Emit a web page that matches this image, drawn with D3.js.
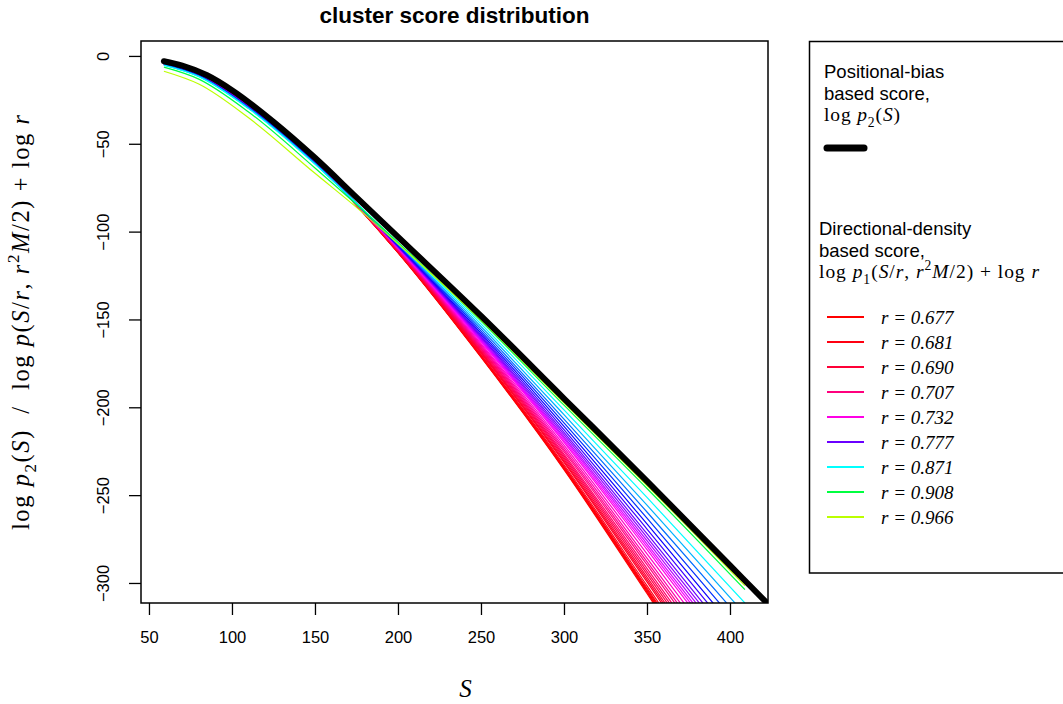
<!DOCTYPE html>
<html>
<head>
<meta charset="utf-8">
<script src="https://cdn.jsdelivr.net/npm/d3@7"></script>
<style>
  body { margin: 0; background: #fff; }
  svg { display: block; }
  text { white-space: pre; }
</style>
</head>
<body>
<svg id="chart" width="1063" height="704"></svg>
<script>
var scoreS = [59, 80, 110, 150, 175, 200, 250, 300, 350, 409];

// r of every coloured curve (low r = red, high r = yellow-green)
var rValues = [0.677, 0.678, 0.679, 0.680, 0.681, 0.683, 0.686, 0.688, 0.690, 0.694,
  0.698, 0.702, 0.707, 0.712, 0.718, 0.725, 0.732, 0.740, 0.748, 0.757,
  0.767, 0.777, 0.789, 0.802, 0.817, 0.833, 0.851, 0.871, 0.908, 0.966];

// log p1(S/r, r^2 M/2) + log r, one row per r, at scoreS
var p1Curves = [
  [-3.9, -10.1, -27.9, -59.8, -85.0, -112.0, -171.5, -235.5, -306.0, -390.0],
  [-3.9, -10.1, -27.9, -59.8, -85.0, -111.9, -171.2, -235.0, -305.2, -388.9],
  [-3.9, -10.1, -27.9, -59.8, -84.9, -111.8, -171.0, -234.5, -304.5, -387.8],
  [-3.9, -10.1, -27.9, -59.8, -84.9, -111.7, -170.7, -234.1, -303.7, -386.7],
  [-3.9, -10.1, -27.9, -59.8, -84.9, -111.7, -170.4, -233.6, -302.9, -385.6],
  [-3.9, -10.2, -28.0, -59.9, -84.9, -111.5, -170.0, -232.7, -301.5, -383.6],
  [-4.0, -10.2, -28.0, -59.9, -84.8, -111.3, -169.2, -231.4, -299.4, -380.6],
  [-4.0, -10.2, -28.0, -59.9, -84.7, -111.1, -168.8, -230.6, -298.1, -378.6],
  [-4.0, -10.2, -28.0, -59.9, -84.7, -111.0, -168.3, -229.7, -296.7, -376.7],
  [-4.0, -10.3, -28.1, -60.0, -84.7, -110.8, -167.7, -228.7, -295.0, -374.3],
  [-4.1, -10.3, -28.1, -60.0, -84.6, -110.6, -167.1, -227.7, -293.4, -371.8],
  [-4.1, -10.3, -28.2, -60.0, -84.6, -110.4, -166.5, -226.6, -291.7, -369.4],
  [-4.1, -10.4, -28.2, -60.1, -84.5, -110.2, -165.8, -225.3, -289.6, -366.4],
  [-4.2, -10.4, -28.3, -60.1, -84.5, -110.0, -165.2, -224.2, -287.8, -363.9],
  [-4.2, -10.5, -28.3, -60.2, -84.4, -109.8, -164.5, -223.0, -285.8, -361.0],
  [-4.3, -10.5, -28.4, -60.2, -84.3, -109.6, -163.7, -221.5, -283.4, -357.5],
  [-4.3, -10.6, -28.5, -60.3, -84.3, -109.3, -162.8, -220.0, -281.0, -354.0],
  [-4.4, -10.7, -28.6, -60.4, -84.3, -109.2, -162.3, -219.0, -279.3, -351.7],
  [-4.4, -10.7, -28.7, -60.5, -84.2, -109.0, -161.7, -217.9, -277.7, -349.4],
  [-4.5, -10.8, -28.8, -60.5, -84.2, -108.8, -161.1, -216.8, -275.9, -346.8],
  [-4.6, -10.9, -28.9, -60.6, -84.2, -108.6, -160.4, -215.6, -274.0, -344.0],
  [-4.6, -11.0, -29.0, -60.7, -84.2, -108.4, -159.7, -214.3, -271.9, -341.1],
  [-4.7, -11.1, -29.1, -60.8, -84.1, -108.2, -158.8, -212.7, -269.3, -337.3],
  [-4.8, -11.2, -29.3, -61.0, -84.0, -107.9, -157.8, -210.9, -266.4, -333.1],
  [-4.9, -11.3, -29.4, -61.1, -84.0, -107.5, -156.6, -208.9, -263.1, -328.4],
  [-5.0, -11.5, -29.6, -61.3, -83.9, -107.2, -155.4, -206.7, -259.6, -323.3],
  [-5.2, -11.6, -29.8, -61.4, -83.9, -106.8, -154.0, -204.2, -255.7, -317.7],
  [-5.3, -11.8, -30.0, -61.6, -83.8, -106.3, -152.5, -201.5, -251.3, -311.4],
  [-6.4, -13.2, -31.9, -63.8, -84.6, -106.1, -150.9, -198.8, -246.2, -303.8],
  [-8.7, -16.0, -35.2, -66.8, -86.2, -107.0, -150.2, -197.5, -244.5, -301.5]
];

// positional-bias score log p2(S) (thick black curve)
var p2S = [59, 70, 85, 100, 125, 150, 175, 200, 250, 300, 350, 400, 425];
var p2Values = [-3, -5.5, -11, -19.5, -37.5, -58, -80.5, -103, -148, -195, -242, -290, -314];

// r values shown in the legend
var legendR = [0.677, 0.681, 0.690, 0.707, 0.732, 0.777, 0.871, 0.908, 0.966];

var xTicks = [50, 100, 150, 200, 250, 300, 350, 400];
var yTicks = [0, -50, -100, -150, -200, -250, -300];

var sans = "'Liberation Sans', Arial, Helvetica, sans-serif",
  serif = "'Liberation Serif', 'Times New Roman', serif";

var svg = d3.select('#chart');

var plotL = 141, plotR = 768, plotT = 41, plotB = 603;

var x = d3.scaleLinear().domain([45.2, 422.9]).range([plotL, plotR]);
var y = d3.scaleLinear().domain([-311.4, 8.5]).range([plotB, plotT]);

// rainbow running backwards from red to yellow-green as r grows
var hue = d3.scaleLinear()
  .domain([0.677, 0.732, 0.777, 0.871, 0.908, 0.966])
  .range([360, 306, 265, 180, 135, 76]);
function colorOf(r) { return d3.hsl(hue(r), 1, 0.5).formatHex(); }

svg.append('defs').append('clipPath').attr('id', 'plotclip')
  .append('rect')
  .attr('x', plotL).attr('y', plotT)
  .attr('width', plotR - plotL).attr('height', plotB - plotT);

var line = d3.line()
  .x(function(d) { return x(d[0]); })
  .y(function(d) { return y(d[1]); })
  .curve(d3.curveMonotoneX);

var curves = svg.append('g').attr('clip-path', 'url(#plotclip)');

p1Curves.forEach(function(vals, i) {
  curves.append('path')
    .datum(scoreS.map(function(s, j) { return [s, vals[j]]; }))
    .attr('d', line)
    .attr('fill', 'none')
    .attr('stroke', colorOf(rValues[i]))
    .attr('stroke-width', 1.2);
});

curves.append('path')
  .datum(p2S.map(function(s, j) { return [s, p2Values[j]]; }))
  .attr('d', line)
  .attr('fill', 'none')
  .attr('stroke', '#000')
  .attr('stroke-width', 6)
  .attr('stroke-linecap', 'round')
  .attr('stroke-linejoin', 'round');

// axes
var xAxis = svg.append('g')
  .attr('transform', 'translate(0,' + plotB + ')')
  .call(d3.axisBottom(x).tickValues(xTicks).tickSize(12).tickPadding(16));

var yAxis = svg.append('g')
  .attr('transform', 'translate(' + plotL + ',0)')
  .call(d3.axisLeft(y).tickValues(yTicks).tickSize(12));

[xAxis, yAxis].forEach(function(ax) {
  ax.select('.domain').remove();
  ax.selectAll('line').attr('stroke', '#000').attr('stroke-width', 1.3);
  ax.selectAll('text').attr('font-family', sans).attr('font-size', 16.5).attr('fill', '#000');
});

yAxis.selectAll('.tick text')
  .attr('x', null).attr('dy', null)
  .attr('text-anchor', 'middle')
  .attr('transform', 'translate(-32,0) rotate(-90)');

// plot frame
svg.append('rect')
  .attr('x', plotL).attr('y', plotT)
  .attr('width', plotR - plotL).attr('height', plotB - plotT)
  .attr('fill', 'none').attr('stroke', '#000').attr('stroke-width', 1.5);

// title
svg.append('text')
  .attr('x', (plotL + plotR) / 2).attr('y', 23)
  .attr('text-anchor', 'middle')
  .attr('font-family', sans).attr('font-weight', 'bold').attr('font-size', 22.5)
  .text('cluster score distribution');

// small helper for the LaTeX-like labels
function addMath(sel, parts, size) {
  var shift = 0;
  parts.forEach(function(p) {
    var t = sel.append('tspan').text(p[0]);
    var target = 0;
    if (p[1] === 'i') t.attr('font-style', 'italic');
    if (p[1] === 'sub') { t.attr('font-size', size * 0.7); target = size * 0.3; }
    if (p[1] === 'sup') { t.attr('font-size', size * 0.7); target = -size * 0.42; }
    if (target !== shift) { t.attr('dy', target - shift); shift = target; }
  });
}

var p2Label = [['log ', ''], ['p', 'i'], ['2', 'sub'], ['(', ''], ['S', 'i'], [')', '']];
var p1Label = [['log ', ''], ['p', 'i'], ['1', 'sub'], ['(', ''], ['S', 'i'], ['/', ''], ['r', 'i'],
  [', ', ''], ['r', 'i'], ['2', 'sup'], ['M', 'i'], ['/2) + log ', ''], ['r', 'i']];
var yLabel = [['log ', ''], ['p', 'i'], ['2', 'sub'], ['(', ''], ['S', 'i'], [')  /  log ', ''],
  ['p', 'i'], ['(', ''], ['S', 'i'], ['/', ''], ['r', 'i'], [', ', ''], ['r', 'i'], ['2', 'sup'],
  ['M', 'i'], ['/2) + log ', ''], ['r', 'i']];

// axis titles
svg.append('text')
  .attr('x', (plotL + plotR) / 2 + 11).attr('y', 697)
  .attr('text-anchor', 'middle')
  .attr('font-family', serif).attr('font-style', 'italic').attr('font-size', 25)
  .text('S');

var yt = svg.append('text')
  .attr('transform', 'translate(29,322.5) rotate(-90)')
  .attr('text-anchor', 'middle')
  .attr('font-family', serif).attr('font-size', 24.5)
  .attr('textLength', 415).attr('lengthAdjust', 'spacing');
addMath(yt, yLabel, 24.5);

// legend
var leg = svg.append('g');
leg.append('rect')
  .attr('x', 809.5).attr('y', 41.5).attr('width', 300).attr('height', 531.5)
  .attr('fill', '#fff').attr('stroke', '#000').attr('stroke-width', 1.5);

function legText(txt, lx, ly) {
  leg.append('text').attr('x', lx).attr('y', ly)
    .attr('font-family', sans).attr('font-size', 18.5).text(txt);
}
legText('Positional-bias', 824, 77.5);
legText('based score,', 824, 99.5);
var m1 = leg.append('text').attr('x', 824).attr('y', 121)
  .attr('font-family', serif).attr('font-size', 19.5)
  .attr('textLength', 76).attr('lengthAdjust', 'spacing');
addMath(m1, p2Label, 19.5);

leg.append('line')
  .attr('x1', 827).attr('x2', 864).attr('y1', 148).attr('y2', 148)
  .attr('stroke', '#000').attr('stroke-width', 7).attr('stroke-linecap', 'round');

legText('Directional-density', 819, 234.5);
legText('based score,', 819, 256.5);
var m2 = leg.append('text').attr('x', 819).attr('y', 278)
  .attr('font-family', serif).attr('font-size', 19.5)
  .attr('textLength', 220).attr('lengthAdjust', 'spacing');
addMath(m2, p1Label, 19.5);

var rowY = d3.scaleLinear().domain([0, 1]).range([317, 342]);
legendR.forEach(function(r, i) {
  leg.append('line')
    .attr('x1', 827).attr('x2', 864).attr('y1', rowY(i)).attr('y2', rowY(i))
    .attr('stroke', colorOf(r)).attr('stroke-width', 2);
  leg.append('text')
    .attr('x', 881).attr('y', rowY(i) + 6.5)
    .attr('font-family', serif).attr('font-style', 'italic').attr('font-size', 19)
    .text('r = ' + d3.format('.3f')(r));
});
</script>
</body>
</html>
